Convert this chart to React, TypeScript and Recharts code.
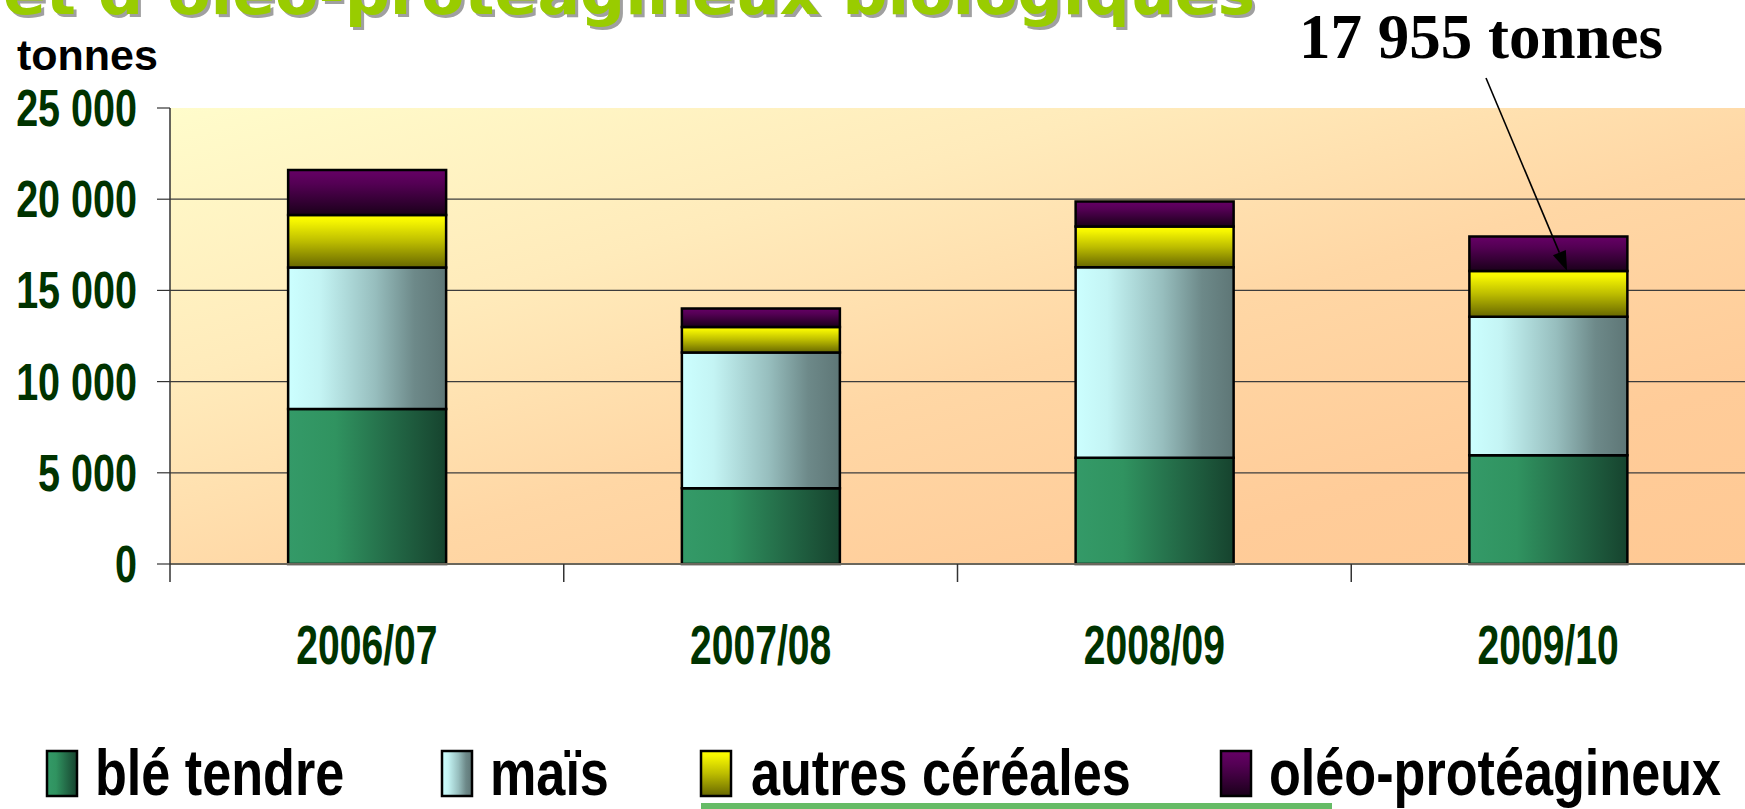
import React from 'react';
import { BarChart, Bar, XAxis, YAxis, CartesianGrid } from 'recharts';

// ---- data ----
const categories = ['2006/07', '2007/08', '2008/09', '2009/10'];
const bleTendre = [8500, 4150, 5830, 5960];
const mais = [7750, 7440, 10440, 7600];
const autresCereales = [2880, 1410, 2230, 2500];
const oleoProteagineux = [2470, 1010, 1370, 1895];
const seriesNames = ['blé tendre', 'maïs', 'autres céréales', 'oléo-protéagineux'];
const yTicks = [0, 5000, 10000, 15000, 20000, 25000];
const gridValues = [5000, 10000, 15000, 20000];
const yMax = 25000;
const annotationText = '17 955 tonnes';
const annotationTargetIndex = 3;
const titleText = 'et d’oléo-protéagineux biologiques';
const unitLabel = 'tonnes';

const data = categories.map((c, i) => ({
  cat: c,
  ble: bleTendre[i],
  mais: mais[i],
  autres: autresCereales[i],
  oleo: oleoProteagineux[i],
}));

// ---- layout ----
const W = 1745;
const H = 809;
const PLOT_LEFT = 170;
const PLOT_TOP = 108;
const PLOT_BOTTOM = 564;
const PLOT_W = W - PLOT_LEFT;
const PLOT_H = PLOT_BOTTOM - PLOT_TOP;
const BAND = PLOT_W / categories.length;
const GREEN_TEXT = '#003300';
const SANS = '"Liberation Sans", Arial, Helvetica, sans-serif';

const fmt = (v: number) => String(v).replace(/\B(?=(\d{3})+(?!\d))/g, ' ');

const yOf = (v: number) => PLOT_TOP + PLOT_H * (1 - v / yMax);
const xOf = (i: number) => PLOT_LEFT + BAND * (i + 0.5);

const gradIds = ['gBle', 'gMais', 'gAutres', 'gOleo'];

const Gradients = ({ prefix }: { prefix: string }) => (
  <defs>
    <linearGradient id={prefix + 'gBle'} x1="0" y1="0" x2="1" y2="0">
      <stop offset="0" stopColor="#349a68" />
      <stop offset="0.3" stopColor="#309360" />
      <stop offset="0.65" stopColor="#236a47" />
      <stop offset="1" stopColor="#16432e" />
    </linearGradient>
    <linearGradient id={prefix + 'gMais'} x1="0" y1="0" x2="1" y2="0">
      <stop offset="0" stopColor="#ccffff" />
      <stop offset="0.2" stopColor="#c4f4f4" />
      <stop offset="0.55" stopColor="#97bebe" />
      <stop offset="0.8" stopColor="#6d8989" />
      <stop offset="1" stopColor="#5e7676" />
    </linearGradient>
    <linearGradient id={prefix + 'gAutres'} x1="0" y1="0" x2="0" y2="1">
      <stop offset="0" stopColor="#ffff00" />
      <stop offset="0.12" stopColor="#f5f500" />
      <stop offset="0.5" stopColor="#bdbd00" />
      <stop offset="1" stopColor="#676700" />
    </linearGradient>
    <linearGradient id={prefix + 'gOleo'} x1="0" y1="0" x2="0" y2="1">
      <stop offset="0" stopColor="#660066" />
      <stop offset="0.3" stopColor="#540054" />
      <stop offset="1" stopColor="#1a001a" />
    </linearGradient>
    <linearGradient id={prefix + 'bg'} x1="0" y1="0" x2="1" y2="1">
      <stop offset="0" stopColor="#fffccb" />
      <stop offset="0.3" stopColor="#ffebbb" />
      <stop offset="0.55" stopColor="#ffd7a5" />
      <stop offset="0.8" stopColor="#ffcc99" />
      <stop offset="1" stopColor="#ffc994" />
    </linearGradient>
  </defs>
);

const YTick = (props: any) => {
  const { x, y, payload } = props;
  return (
    <g transform={`translate(${x},${y + 18})`}>
      <text
        x={0}
        y={0}
        transform="scale(0.76,1)"
        textAnchor="end"
        fontFamily={SANS}
        fontWeight="bold"
        fontSize={52}
        fill={GREEN_TEXT}
      >
        {fmt(payload.value)}
      </text>
    </g>
  );
};

const XTick = (props: any) => {
  const { x, payload } = props;
  const bx = x - BAND / 2;
  return (
    <g>
      <line x1={bx} y1={PLOT_BOTTOM} x2={bx} y2={PLOT_BOTTOM + 18} stroke="#333" strokeWidth={1.5} />
      <g transform={`translate(${x},${PLOT_BOTTOM + 100})`}>
        <text
          x={0}
          y={0}
          transform="scale(0.71,1)"
          textAnchor="middle"
          fontFamily={SANS}
          fontWeight="bold"
          fontSize={55}
          fill={GREEN_TEXT}
        >
          {payload.value}
        </text>
      </g>
    </g>
  );
};

const legendLayout = [
  { sx: 47, tx: 95 },
  { sx: 442, tx: 490 },
  { sx: 701, tx: 751 },
  { sx: 1221, tx: 1269 },
];

export default function App() {
  const tipX = xOf(annotationTargetIndex) + 19;
  const tipY = yOf(bleTendre[annotationTargetIndex] + mais[annotationTargetIndex] + autresCereales[annotationTargetIndex]);
  const startX = 1486;
  const startY = 78;
  const dx = tipX - startX;
  const dy = tipY - startY;
  const len = Math.sqrt(dx * dx + dy * dy);
  const ux = dx / len;
  const uy = dy / len;
  const hl = 20;
  const hw = 7;
  const bx = tipX - ux * hl;
  const by = tipY - uy * hl;
  const arrowPts = `${tipX},${tipY} ${bx - uy * hw},${by + ux * hw} ${bx + uy * hw},${by - ux * hw}`;

  return (
    <div style={{ position: 'absolute', left: 0, top: 0, width: W, height: H, background: '#fff', overflow: 'hidden' }}>
      <BarChart
        width={W}
        height={H}
        data={data}
        margin={{ top: PLOT_TOP, right: 0, left: 0, bottom: 145 }}
        barCategoryGap="30%"
      >
        <Gradients prefix="c-" />
        <CartesianGrid
          vertical={false}
          stroke="#3c3c3c"
          strokeWidth={1.2}
          fill="url(#c-bg)"
          fillOpacity={1}
          horizontalCoordinatesGenerator={(args: any) => {
            const yAxis = args && args.yAxis;
            return gridValues.map((v) =>
              yAxis && typeof yAxis.scale === 'function' ? yAxis.scale(v) : yOf(v)
            );
          }}
        />
        <XAxis
          dataKey="cat"
          height={100}
          tickLine={false}
          tickSize={0}
          tickMargin={0}
          axisLine={{ stroke: '#6b675c', strokeWidth: 2 }}
          tick={<XTick />}
          interval={0}
        />
        <YAxis
          width={170}
          domain={[0, yMax]}
          ticks={yTicks}
          interval={0}
          tickSize={13}
          tickMargin={20}
          axisLine={{ stroke: '#333', strokeWidth: 1.5 }}
          tickLine={{ stroke: '#333', strokeWidth: 1.2 }}
          tick={<YTick />}
        />
        <Bar dataKey="ble" name={seriesNames[0]} stackId="a" fill="url(#c-gBle)" stroke="#000" strokeWidth={2.5} isAnimationActive={false} />
        <Bar dataKey="mais" name={seriesNames[1]} stackId="a" fill="url(#c-gMais)" stroke="#000" strokeWidth={2.5} isAnimationActive={false} />
        <Bar dataKey="autres" name={seriesNames[2]} stackId="a" fill="url(#c-gAutres)" stroke="#000" strokeWidth={2.5} isAnimationActive={false} />
        <Bar dataKey="oleo" name={seriesNames[3]} stackId="a" fill="url(#c-gOleo)" stroke="#000" strokeWidth={2.5} isAnimationActive={false} />
      </BarChart>

      <svg
        width={W}
        height={H}
        style={{ position: 'absolute', left: 0, top: 0, pointerEvents: 'none' }}
      >
        <Gradients prefix="l-" />
        {/* title (cut at top, as in the reference) */}
        <text x={6} y={17} fontFamily='"DejaVu Sans", Verdana, sans-serif' fontWeight="bold" fontSize={60} fill="#a0a0a0" textLength={1252} lengthAdjust="spacingAndGlyphs">
          {titleText}
        </text>
        <text x={3} y={14} fontFamily='"DejaVu Sans", Verdana, sans-serif' fontWeight="bold" fontSize={60} fill="#99cc00" textLength={1252} lengthAdjust="spacingAndGlyphs">
          {titleText}
        </text>

        {/* unit label */}
        <text x={17} y={70} fontFamily={SANS} fontWeight="bold" fontSize={43} fill="#000">
          {unitLabel}
        </text>

        {/* annotation */}
        <text x={1299} y={58} fontFamily='"Liberation Serif", "Times New Roman", serif' fontWeight="bold" fontSize={63} fill="#000">
          {annotationText}
        </text>
        <line x1={startX} y1={startY} x2={bx} y2={by} stroke="#000" strokeWidth={1.6} />
        <polygon points={arrowPts} fill="#000" />

        {/* legend */}
        {seriesNames.map((name, i) => (
          <g key={name}>
            <rect
              x={legendLayout[i].sx}
              y={751}
              width={30}
              height={45}
              fill={`url(#l-${gradIds[i]})`}
              stroke="#000"
              strokeWidth={2.5}
            />
            <g transform={`translate(${legendLayout[i].tx},795)`}>
              <text
                x={0}
                y={0}
                transform="scale(0.815,1)"
                fontFamily={SANS}
                fontWeight="bold"
                fontSize={64}
                fill="#000"
              >
                {name}
              </text>
            </g>
          </g>
        ))}
        <rect x={701} y={803} width={631} height={6} fill="#66bb66" />
      </svg>
    </div>
  );
}
